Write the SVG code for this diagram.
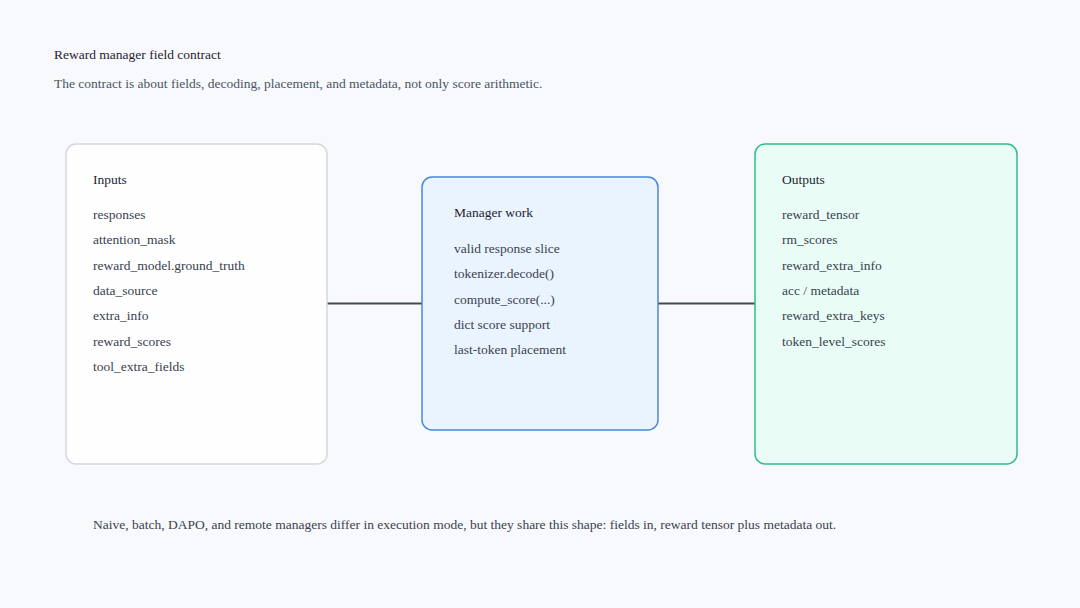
<svg xmlns="http://www.w3.org/2000/svg" width="1080" height="608" viewBox="0 0 1080 608">
<style>
text{font-family:"Liberation Serif","Times New Roman",serif;font-size:13.5px}
.t{fill:#1f2430}
.s{fill:#4b5563}
.h{fill:#1f2430}
.i{fill:#3a4250}
.box{stroke-width:1.5}
</style>
<rect width="1080" height="608" fill="#f8f9fc"/>
<text class="t" x="54" y="59">Reward manager field contract</text>
<text class="s" x="54" y="88">The contract is about fields, decoding, placement, and metadata, not only score arithmetic.</text>
<g id="connectors" stroke="#444a52" stroke-width="2">
<line x1="327" y1="303.5" x2="422" y2="303.5"/>
<line x1="658" y1="303.5" x2="755" y2="303.5"/>
</g>
<g id="inputs">
<rect class="box" x="66" y="144" width="261" height="320" rx="10" fill="#fefefe" stroke="#d5d8de"/>
<text class="h" x="93" y="184">Inputs</text>
<text class="i" x="93" y="219">responses</text>
<text class="i" x="93" y="244.3">attention_mask</text>
<text class="i" x="93" y="269.6">reward_model.ground_truth</text>
<text class="i" x="93" y="294.9">data_source</text>
<text class="i" x="93" y="320.2">extra_info</text>
<text class="i" x="93" y="345.5">reward_scores</text>
<text class="i" x="93" y="370.8">tool_extra_fields</text>
</g>
<g id="manager">
<rect class="box" x="422" y="177" width="236" height="253" rx="10" fill="#eaf4ff" stroke="#4a86e0"/>
<text class="h" x="454" y="217">Manager work</text>
<text class="i" x="454" y="253">valid response slice</text>
<text class="i" x="454" y="278.3">tokenizer.decode()</text>
<text class="i" x="454" y="303.6">compute_score(...)</text>
<text class="i" x="454" y="328.9">dict score support</text>
<text class="i" x="454" y="354.2">last-token placement</text>
</g>
<g id="outputs">
<rect class="box" x="755" y="144" width="262" height="320" rx="10" fill="#e9fdf6" stroke="#2fbb8a"/>
<text class="h" x="782" y="184">Outputs</text>
<text class="i" x="782" y="219">reward_tensor</text>
<text class="i" x="782" y="244.3">rm_scores</text>
<text class="i" x="782" y="269.6">reward_extra_info</text>
<text class="i" x="782" y="294.9">acc / metadata</text>
<text class="i" x="782" y="320.2">reward_extra_keys</text>
<text class="i" x="782" y="345.5">token_level_scores</text>
</g>
<text class="i" x="93" y="529">Naive, batch, DAPO, and remote managers differ in execution mode, but they share this shape: fields in, reward tensor plus metadata out.</text>
</svg>
